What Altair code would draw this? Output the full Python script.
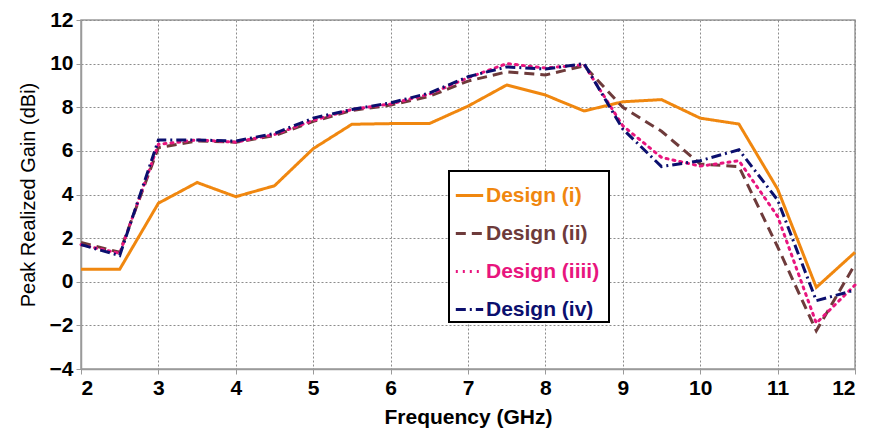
import altair as alt
import pandas as pd

freq = [2, 2.5, 3, 3.5, 4, 4.5, 5, 5.5, 6, 6.5, 7, 7.5, 8, 8.5, 9, 9.5, 10, 10.5, 11, 11.5, 12]
design_i = [0.57, 0.57, 3.6, 4.55, 3.9, 4.4, 6.1, 7.22, 7.25, 7.25, 8.05, 9.02, 8.56, 7.83, 8.25, 8.35, 7.5, 7.23, 4.25, -0.26, 1.35]
design_ii = [1.8, 1.35, 6.15, 6.45, 6.4, 6.7, 7.35, 7.85, 8.1, 8.5, 9.2, 9.62, 9.48, 9.9, 8.0, 6.9, 5.4, 5.28, 1.6, -2.25, 0.8]
design_iiii = [1.7, 1.3, 6.3, 6.5, 6.4, 6.75, 7.4, 7.9, 8.15, 8.6, 9.35, 10.0, 9.8, 9.95, 7.15, 5.7, 5.3, 5.55, 3.0, -1.9, -0.15]
design_iv = [1.7, 1.2, 6.5, 6.5, 6.45, 6.8, 7.5, 7.9, 8.2, 8.65, 9.4, 9.85, 9.75, 10.0, 7.0, 5.28, 5.55, 6.05, 3.75, -0.87, -0.38]

names = ["Design (i)", "Design (ii)", "Design (iiii)", "Design (iv)"]
series = [design_i, design_ii, design_iiii, design_iv]
colors = ["#F0870F", "#6E3B3B", "#E8157E", "#0B0F6E"]
dashes = [[1, 0], [10, 6], [2, 5], [10, 4, 2, 4]]
caps = ["butt", "butt", "round", "butt"]

FONT = "Liberation Sans, Arial"

x_enc = alt.X("freq:Q", scale=alt.Scale(domain=[2, 12], nice=False),
              axis=alt.Axis(values=list(range(2, 13)), title="Frequency (GHz)", format="d"))
y_enc = alt.Y("gain:Q", scale=alt.Scale(domain=[-4, 12], nice=False),
              axis=alt.Axis(values=list(range(-4, 13, 2)), title="Peak Realized Gain (dBi)"))

box = alt.Chart(pd.DataFrame({"a": [0]})).mark_rect(
    fill="white", stroke="black", strokeWidth=2
).encode(x=alt.value(368), x2=alt.value(528), y=alt.value(151), y2=alt.value(302))

layers = [box]
legend_y = [160, 198, 236, 274]
for name, vals, col, dash, cap, ly in zip(names, series, colors, dashes, caps, legend_y):
    df = pd.DataFrame({"freq": freq, "gain": vals, "series": name})
    lc = alt.Chart(df).mark_line(strokeWidth=3, strokeDash=dash, strokeCap=cap).encode(
        x=x_enc, y=y_enc,
        color=alt.Color("series:N", scale=alt.Scale(domain=[name], range=[col]),
                        legend=alt.Legend(title=None, orient="none", legendX=373, legendY=ly,
                                          padding=0, labelColor=col, labelFont=FONT,
                                          labelFontSize=21, labelFontWeight="bold",
                                          symbolType="stroke", symbolStrokeWidth=3,
                                          symbolDash=dash, symbolSize=750, labelOffset=1,
                                          symbolStrokeColor=col))
    )
    layers.append(lc)

chart = alt.layer(*layers).resolve_scale(color="independent").resolve_legend(color="independent").properties(
    width=774, height=349, autosize=alt.AutoSizeParams(type="none"),
    padding={"left": 81, "top": 20, "right": 15, "bottom": 73}
).configure_view(stroke="#9a9a9a", strokeWidth=1.5).configure_axis(
    grid=True, gridColor="#8c8c8c", gridDash=[2, 2], gridWidth=1,
    domainColor="#9a9a9a", domainWidth=1.5, tickColor="#9a9a9a", tickSize=5,
    labelFont=FONT, labelFontSize=21, labelFontWeight="bold", labelColor="black",
    titleFont=FONT, titleFontSize=21, titleColor="black"
).configure_axisX(labelPadding=3, titleFontWeight="bold", titlePadding=8
).configure_axisY(labelPadding=3, titleFontWeight="normal", titleFontSize=20, titlePadding=11)

chart.save("out.html", embed_options={"renderer": "svg", "actions": False})
